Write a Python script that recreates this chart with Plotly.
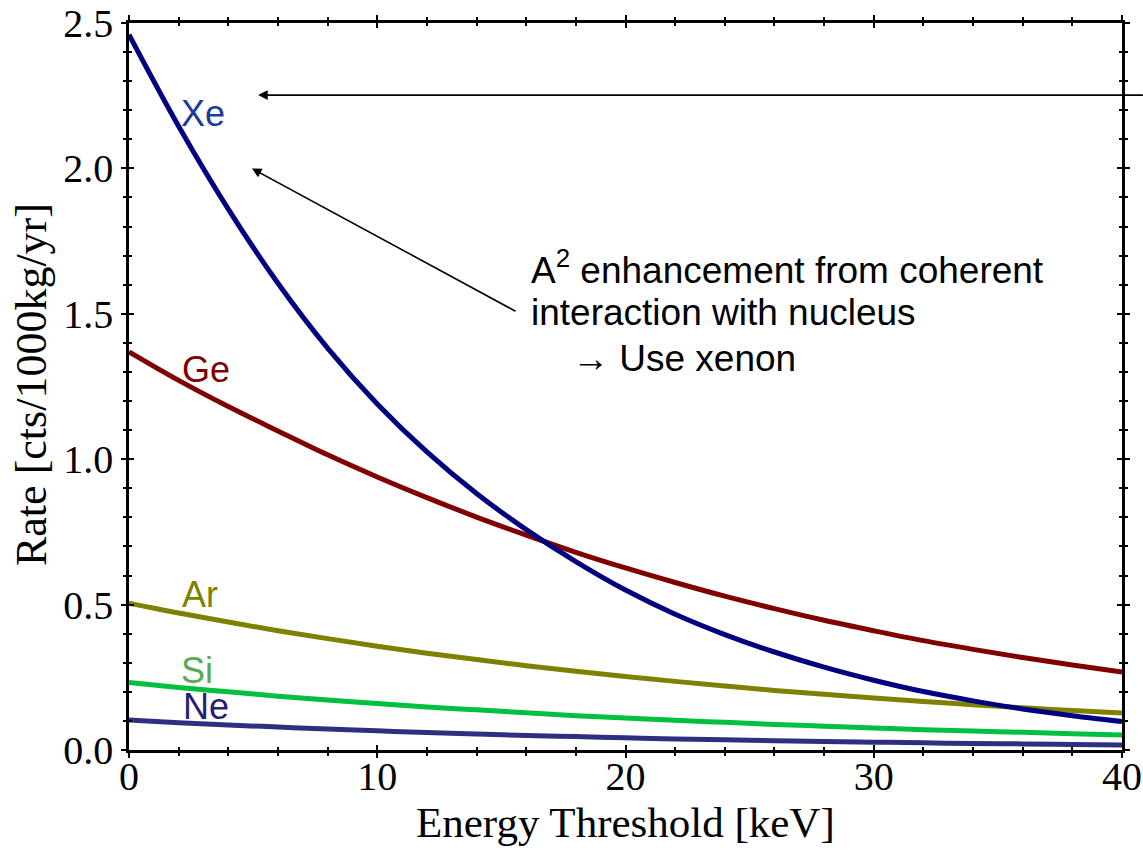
import plotly.graph_objects as go

energy = [0, 2, 4, 6, 8, 10, 12, 14, 16, 18, 20, 22, 24, 26, 28, 30, 32, 34, 36, 38, 40]
xe = [2.46, 2.145, 1.860, 1.605, 1.382, 1.190, 1.025, 0.882, 0.758, 0.648, 0.550, 0.467, 0.397, 0.337, 0.285, 0.240, 0.201, 0.169, 0.141, 0.118, 0.098]
ge = [1.369, 1.271, 1.181, 1.097, 1.015, 0.939, 0.868, 0.801, 0.739, 0.680, 0.626, 0.576, 0.529, 0.486, 0.446, 0.410, 0.376, 0.346, 0.318, 0.292, 0.268]
ar = [0.505, 0.471, 0.440, 0.410, 0.383, 0.357, 0.333, 0.311, 0.290, 0.271, 0.253, 0.236, 0.220, 0.205, 0.192, 0.179, 0.167, 0.156, 0.145, 0.136, 0.127]
si = [0.232, 0.215, 0.200, 0.185, 0.172, 0.160, 0.148, 0.138, 0.128, 0.118, 0.110, 0.102, 0.095, 0.088, 0.082, 0.076, 0.070, 0.065, 0.061, 0.056, 0.052]
ne = [0.103, 0.094, 0.086, 0.079, 0.072, 0.066, 0.060, 0.055, 0.050, 0.046, 0.042, 0.038, 0.035, 0.032, 0.029, 0.027, 0.025, 0.022, 0.021, 0.019, 0.017]

series_names = ["Ne", "Si", "Ar", "Ge", "Xe"]
series_values = [ne, si, ar, ge, xe]
line_colors = ["#2f2f80", "#00c040", "#808000", "#800000", "#000080"]
label_colors = ["#2a1a78", "#5aaa55", "#808000", "#800000", "#1c3a9c"]
label_pos = {"Xe": (3.0, 2.19), "Ge": (3.1, 1.31), "Ar": (2.85, 0.535), "Si": (2.75, 0.275), "Ne": (3.1, 0.15)}

note_lines = ["A<sup>2</sup> enhancement from coherent", "interaction with nucleus", "\u2192 Use xenon"]
note_pos = [(16.1, 1.66), (16.1, 1.503), (17.75, 1.348)]

x_title = "Energy Threshold [keV]"
y_title = "Rate [cts/1000kg/yr]"

fig = go.Figure()
for name, vals, col in zip(series_names, series_values, line_colors):
    fig.add_trace(go.Scatter(x=energy, y=vals, mode="lines", name=name,
                             line=dict(color=col, width=5, shape="spline"),
                             showlegend=False, hoverinfo="skip"))
# invisible trace on overlay axes so they are drawn
fig.add_trace(go.Scatter(x=[0], y=[0], xaxis="x2", yaxis="y2", mode="markers",
                         marker=dict(opacity=0), showlegend=False, hoverinfo="skip"))

serif = "Liberation Serif, Times New Roman, serif"
sans = "Arial, Liberation Sans, sans-serif"

for name, col in zip(series_names, label_colors):
    lx, ly = label_pos[name]
    fig.add_annotation(x=lx, y=ly, text=name, showarrow=False,
                       font=dict(family=sans, size=36, color=col))

# arrows
fig.add_annotation(x=5.2, y=2.252, ax=40.9, ay=2.252, axref="x", ayref="y",
                   text="", showarrow=True, arrowhead=2, arrowsize=1.2,
                   arrowwidth=1.6, arrowcolor="black")
fig.add_annotation(x=4.95, y=2.0, ax=15.63, ay=1.506, axref="x", ayref="y",
                   text="", showarrow=True, arrowhead=2, arrowsize=1.2,
                   arrowwidth=1.6, arrowcolor="black")
for txt, (nx, ny) in zip(note_lines, note_pos):
    fig.add_annotation(x=nx, y=ny, xanchor="left", yanchor="middle", align="left",
                       text=txt, showarrow=False,
                       font=dict(family=sans, size=37, color="black"))

# axis titles
fig.add_annotation(xref="paper", yref="paper", x=0.5, y=-0.1, xanchor="center", yanchor="middle",
                   text=x_title, showarrow=False, font=dict(family=serif, size=43, color="black"))
fig.add_annotation(xref="paper", yref="paper", x=-0.098, y=0.503, xanchor="center", yanchor="middle",
                   text=y_title, textangle=-90, showarrow=False,
                   font=dict(family=serif, size=44, color="black"))

axis_common = dict(showline=True, linecolor="black", linewidth=2.5, automargin=False,
                   showgrid=False, zeroline=False, tickcolor="black", tickwidth=2)

fig.update_layout(
    width=1143, height=853,
    margin=dict(l=129, r=21, t=23, b=103),
    paper_bgcolor="white", plot_bgcolor="white",
    xaxis=dict(range=[0, 40], dtick=10, tick0=0, ticks="outside", ticklen=5,
               mirror="ticks", ticklabelstandoff=-16,
               minor=dict(dtick=2, ticks="outside", ticklen=3, tickcolor="black", tickwidth=2),
               tickfont=dict(family=serif, size=40, color="black"),
               **axis_common),
    yaxis=dict(range=[0, 2.5], dtick=0.5, tick0=0, ticks="outside", ticklen=5,
               mirror="ticks", tickformat=".1f",
               minor=dict(dtick=0.1, ticks="outside", ticklen=3, tickcolor="black", tickwidth=2),
               tickfont=dict(family=serif, size=40, color="black"),
               **axis_common),
    xaxis2=dict(range=[0, 40], overlaying="x", dtick=10, tick0=0, ticks="inside", ticklen=5,
                mirror="ticks", showticklabels=False,
                minor=dict(dtick=2, ticks="inside", ticklen=3, tickcolor="black", tickwidth=2),
                **axis_common),
    yaxis2=dict(range=[0, 2.5], overlaying="y", dtick=0.5, tick0=0, ticks="inside", ticklen=5,
                mirror="ticks", showticklabels=False,
                minor=dict(dtick=0.1, ticks="inside", ticklen=3, tickcolor="black", tickwidth=2),
                **axis_common),
)

fig.write_html("out.html")
